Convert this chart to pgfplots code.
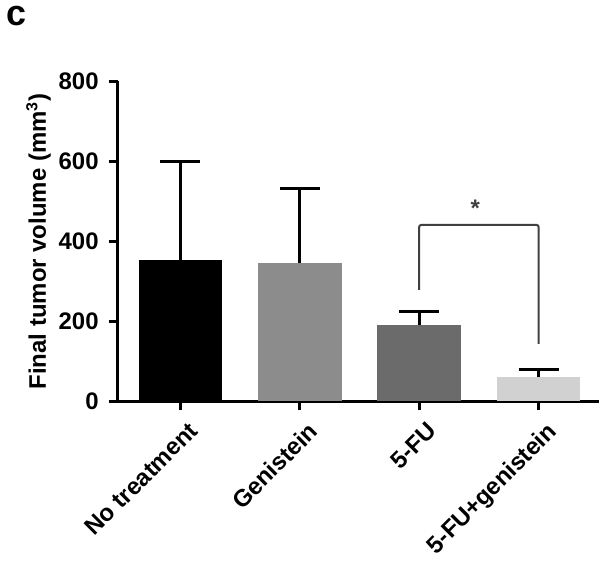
\documentclass[border=0pt]{standalone}
\usepackage{pgfplots}
\pgfplotsset{compat=1.18}
\usepackage{fontspec}
\setmainfont{Liberation Sans}
\begin{document}
\begin{tikzpicture}
\begin{axis}[
    scale only axis,
    width=241.5pt, height=160.5pt,
    xmin=-0.526, xmax=3.51,
    ymin=0, ymax=800,
    axis x line=bottom, axis y line=left,
    axis line style={-, line width=1.5pt},
    clip=false,
    xtick={0,1,2,3},
    xticklabels={No treatment, Genistein, 5-FU, 5-FU+genistein},
    ytick={0,200,400,600,800},
    tick style={line width=1.5pt, black},
    tick align=outside,
    major tick length=4.5pt,
    /pgf/number format/assume math mode=true,
    ticklabel style={font=\bfseries\fontsize{12}{14}\selectfont},
    yticklabel style={xshift=-1.5pt},
    xticklabel style={rotate=45, anchor=north east, inner sep=1pt, yshift=-5pt},
    ylabel={\bfseries\fontsize{12}{14}\selectfont Final tumor volume (mm$^{\mathbf{3}}$)},
    ylabel style={yshift=-3pt},
    error bars/error bar style={line width=1.5pt, black},
    error bars/error mark options={line width=1.5pt, black, mark size=10pt, rotate=90},
]
\addplot[ybar, bar shift=0pt, bar width=0.70, fill=black, draw=none,
    error bars/.cd, y dir=plus, y explicit]
    coordinates {(0,354) +- (0,246)};
\addplot[ybar, bar shift=0pt, bar width=0.70, fill=black!45, draw=none,
    error bars/.cd, y dir=plus, y explicit]
    coordinates {(1,346) +- (0,187)};
\addplot[ybar, bar shift=0pt, bar width=0.70, fill=black!58, draw=none,
    error bars/.cd, y dir=plus, y explicit]
    coordinates {(2,192) +- (0,32)};
\addplot[ybar, bar shift=0pt, bar width=0.70, fill=black!18, draw=none,
    error bars/.cd, y dir=plus, y explicit]
    coordinates {(3,62) +- (0,18)};
\draw[line width=1pt, black!75, rounded corners=1pt]
    (axis cs:2,279) -- (axis cs:2,441) -- (axis cs:3,441) -- (axis cs:3,144);
\node[font=\bfseries\fontsize{12}{14}\selectfont, black!75] at (axis cs:2.47,482) {*};
\node[font=\bfseries\fontsize{18}{20}\selectfont, anchor=north west] at (rel axis cs:-0.245,1.255) {c};
\end{axis}
\end{tikzpicture}
\end{document}
